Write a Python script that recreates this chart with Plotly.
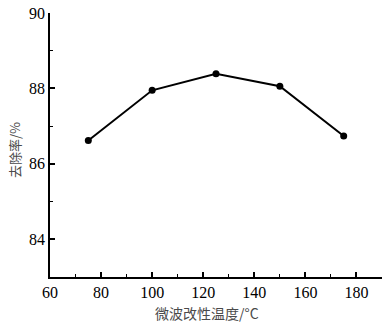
import plotly.graph_objects as go

temperature = [75, 100, 125, 150, 175]
removal_rate = [86.62, 87.95, 88.39, 88.06, 86.74]
x_ticks = [60, 80, 100, 120, 140, 160, 180]
y_ticks = [84, 86, 88, 90]

W, H = 387, 327
L, R, T, B = 50, 5, 13, 50

fig = go.Figure()
fig.add_trace(go.Scatter(
    x=temperature, y=removal_rate, mode="lines+markers",
    line=dict(color="black", width=2),
    marker=dict(color="black", size=7),
    showlegend=False, cliponaxis=False,
))

tick_font = dict(family="Liberation Serif", size=16, color="black")
title_font_x = dict(family="Noto Sans CJK SC", size=14, color="#4a4a4a")
title_font_y = dict(family="Noto Sans CJK SC", size=13, color="#4a4a4a")

pw, ph = W - L - R, H - T - B
def px_to_paper(x, y):
    return (x - L) / pw, (H - B - y) / ph

xt_x, xt_y = px_to_paper(207, 313)
yt_x, yt_y = px_to_paper(14, 150)

fig.update_layout(
    width=W, height=H,
    margin=dict(l=L, r=R, t=T, b=B),
    font=dict(family="Liberation Serif"),
    plot_bgcolor="white", paper_bgcolor="white",
    xaxis=dict(
        range=[60, 190], tickvals=x_ticks, ticks="inside", ticklen=5,
        tickwidth=1.5, tickcolor="black", showline=True, linecolor="black",
        linewidth=1.5, showgrid=False, zeroline=False, tickfont=tick_font,
        automargin=False,
        minor=dict(dtick=10, ticks="inside", ticklen=3, tickcolor="black", tickwidth=1.2, showgrid=False),
    ),
    yaxis=dict(
        range=[83, 90], tickvals=y_ticks, ticks="inside", ticklen=5,
        tickwidth=1.5, tickcolor="black", showline=True, linecolor="black",
        linewidth=1.5, showgrid=False, zeroline=False, tickfont=tick_font,
        automargin=False,
        minor=dict(dtick=1, ticks="inside", ticklen=3, tickcolor="black", tickwidth=1.2, showgrid=False),
    ),
    annotations=[
        dict(text="微波改性温度/°C", x=xt_x, y=xt_y, xref="paper", yref="paper",
             xanchor="center", yanchor="middle", showarrow=False, font=title_font_x),
        dict(text="去除率/%", x=yt_x, y=yt_y, xref="paper", yref="paper",
             xanchor="center", yanchor="middle", showarrow=False, font=title_font_y, textangle=-90),
    ],
)
fig.write_html("out.html", config={"displayModeBar": False},
               post_script="document.body.style.margin='0';document.body.style.padding='0';")
